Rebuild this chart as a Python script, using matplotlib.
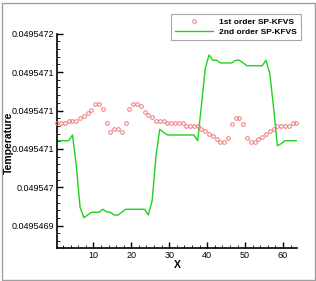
import matplotlib
matplotlib.use("Agg")
import matplotlib.pyplot as plt
from matplotlib.patches import Rectangle
import numpy as np

x_vals = [0.5 + i for i in range(64)]

temp_1st = [
    0.0495470833, 0.0495470833, 0.0495470833, 0.0495470868, 0.0495470868, 0.0495470868,
    0.0495470902, 0.0495470933, 0.0495470967, 0.0495471002, 0.0495471089, 0.0495471089,
    0.0495471020, 0.0495470833, 0.0495470720, 0.0495470759, 0.0495470759, 0.0495470720,
    0.0495470833, 0.0495471020, 0.0495471089, 0.0495471089, 0.0495471059, 0.0495470980,
    0.0495470946, 0.0495470915, 0.0495470868, 0.0495470868, 0.0495470868, 0.0495470833,
    0.0495470833, 0.0495470833, 0.0495470833, 0.0495470833, 0.0495470798, 0.0495470798,
    0.0495470798, 0.0495470798, 0.0495470763, 0.0495470729, 0.0495470698, 0.0495470668,
    0.0495470629, 0.0495470585, 0.0495470585, 0.0495470646, 0.0495470828, 0.0495470907,
    0.0495470907, 0.0495470828, 0.0495470646, 0.0495470585, 0.0495470585, 0.0495470629,
    0.0495470659, 0.0495470698, 0.0495470729, 0.0495470763, 0.0495470798, 0.0495470798,
    0.0495470798, 0.0495470798, 0.0495470833, 0.0495470833,
]

temp_2nd = [
    0.0495470607, 0.0495470607, 0.0495470607, 0.0495470607, 0.0495470681, 0.0495470290,
    0.0495469740, 0.0495469604, 0.0495469639, 0.0495469675, 0.0495469675, 0.0495469675,
    0.0495469714, 0.0495469682, 0.0495469675, 0.0495469639, 0.0495469639, 0.0495469675,
    0.0495469714, 0.0495469714, 0.0495469714, 0.0495469714, 0.0495469714, 0.0495469714,
    0.0495469639, 0.0495469826, 0.0495470399, 0.0495470755, 0.0495470716, 0.0495470681,
    0.0495470681, 0.0495470681, 0.0495470681, 0.0495470681, 0.0495470681, 0.0495470681,
    0.0495470681, 0.0495470607, 0.0495471072, 0.0495471550, 0.0495471723, 0.0495471654,
    0.0495471654, 0.0495471619, 0.0495471619, 0.0495471619, 0.0495471619, 0.0495471654,
    0.0495471654, 0.0495471619, 0.0495471583, 0.0495471583, 0.0495471583, 0.0495471583,
    0.0495471583, 0.0495471654, 0.0495471484, 0.0495471041, 0.0495470542, 0.0495470568,
    0.0495470607, 0.0495470607, 0.0495470607, 0.0495470607,
]

y_tick_pos = [0.0495472, 0.04954715, 0.0495471, 0.04954705, 0.049547, 0.04954695]
y_tick_labels = ["0.0495472", "0.0495471", "0.0495471", "0.0495471", "0.049547", "0.0495469"]
x_tick_pos = [10, 20, 30, 40, 50, 60]

plt.rcParams['font.family'] = ['Liberation Sans', 'DejaVu Sans']

fig = plt.figure(figsize=(3.16, 2.81), dpi=100)
fig.patches.append(Rectangle((1.5 / 316, 1.0 / 281), 313.5 / 316, 277.5 / 281,
                             transform=fig.transFigure, fill=False,
                             edgecolor='#a0a0a0', linewidth=1.0))
ax = fig.add_axes([57.3 / 316, (281 - 248.3) / 281, (296.7 - 57.3) / 316, (248.3 - 33.7) / 281])

ax.plot(x_vals, temp_1st, linestyle='none', marker='o', markersize=2.6,
        markerfacecolor='none', markeredgecolor='#f07878', markeredgewidth=0.7,
        label='1st order SP-KFVS', clip_on=False, zorder=3)
ax.plot(x_vals, temp_2nd, color='#1ed21e', linewidth=1.0, label='2nd order SP-KFVS', zorder=2)

ax.set_xlim(0.5, 63.6)
ax.set_ylim(0.0495469206, 0.0495472)

for s in ['top', 'right']:
    ax.spines[s].set_visible(False)
for s in ['left', 'bottom']:
    ax.spines[s].set_linewidth(1.2)

ax.set_xticks(x_tick_pos)
ax.set_xticks(np.arange(2, 64, 2), minor=True)
ax.set_yticks(y_tick_pos)
ax.set_yticklabels(y_tick_labels)
ax.set_yticks(np.arange(0.04954693, 0.04954720, 0.00000001), minor=True)

ax.tick_params(axis='both', which='major', direction='in', length=4.0, width=1.0,
               labelsize=6.5, pad=2)
ax.tick_params(axis='both', which='minor', direction='in', length=2.0, width=0.6)

ax.set_xlabel('X', fontsize=7.5, fontweight='bold', labelpad=0)
ax.set_ylabel('Temperature', fontsize=7.5, fontweight='bold')
ax.yaxis.set_label_coords((14.0 - 57.3) / 239.4, 0.493)

leg = ax.legend(loc='upper left', bbox_to_anchor=((170.7 - 57.3) / (296.7 - 57.3), (248.3 - 14) / (248.3 - 33.7)),
                fontsize=6, frameon=True, fancybox=False, handlelength=4.6,
                handletextpad=0.65, borderpad=0.5, labelspacing=0.25, borderaxespad=0)
leg.get_frame().set_edgecolor('#909090')
leg.get_frame().set_linewidth(0.8)
for t in leg.get_texts():
    t.set_fontweight('bold')

fig.savefig('out.png', dpi=100)
